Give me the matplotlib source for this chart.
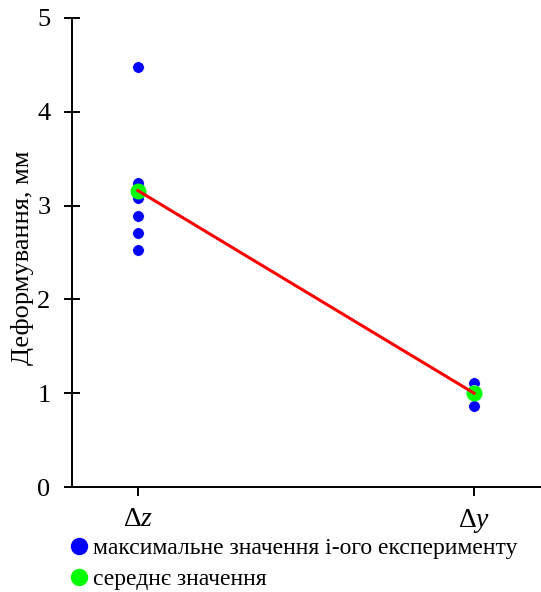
import matplotlib
matplotlib.use("Agg")
import matplotlib.pyplot as plt
from matplotlib.lines import Line2D

plt.rcParams['font.family'] = ['Liberation Serif', 'DejaVu Serif']
plt.rcParams['mathtext.fontset'] = 'custom'
plt.rcParams['mathtext.rm'] = 'Liberation Serif'
plt.rcParams['mathtext.it'] = 'Liberation Serif:italic'

categories = ['$\\Delta z$', '$\\Delta y$']
dz_values = [4.48, 3.24, 3.08, 2.89, 2.71, 2.53]
dy_values = [1.11, 1.02, 0.86]
mean_values = [3.16, 1.00]
yticks = [0, 1, 2, 3, 4, 5]
ylabel = 'Деформування, мм'
legend_labels = ['максимальне значення і-ого експерименту', 'середнє значення']

fig = plt.figure(figsize=(5.41, 5.92), dpi=100)
ax = fig.add_axes([72/541, 105/592, 1 - 72/541, (487-18)/592])

blue = '#0000ff'
green = '#00ff00'
red = '#ff0000'

ax.plot([0]*len(dz_values), dz_values, 'o', color=blue, ms=8.5, mec='white', mew=0.6, zorder=3)
ax.plot([1]*len(dy_values), dy_values, 'o', color=blue, ms=8.5, mec='white', mew=0.6, zorder=3)
ax.plot([0, 1], mean_values, '-', color=red, lw=2.2, zorder=5)
ax.plot([0, 1], mean_values, 'o', color=green, ms=10.5, zorder=4)

ax.set_xlim(-0.196, 1.199)
ax.set_ylim(0, 5)
ax.set_yticks(yticks)
ax.set_xticks([0, 1])
ax.set_xticklabels(categories, fontsize=20)
ax.tick_params(axis='y', direction='inout', length=12, width=1.4, labelsize=19, pad=9.4)
ax.tick_params(axis='x', direction='out', length=6.5, width=1.4, pad=8)
for s in ['top', 'right']:
    ax.spines[s].set_visible(False)
for s in ['left', 'bottom']:
    ax.spines[s].set_linewidth(1.4)

fig.text(23/541, 1 - 258/592, ylabel, rotation=90, ha='center', va='center',
         fontsize=19, fontstyle='normal')

handles = [Line2D([], [], ls='none', marker='o', color=blue, ms=11.5),
           Line2D([], [], ls='none', marker='o', color=green, ms=11.5)]
fig.legend(handles, legend_labels, loc='upper left', bbox_to_anchor=(0.105, 0.108),
           frameon=False, fontsize=17, handletextpad=0.05, labelspacing=0.4,
           handlelength=1.1, borderaxespad=0)

fig.savefig('out.png', dpi=100)
